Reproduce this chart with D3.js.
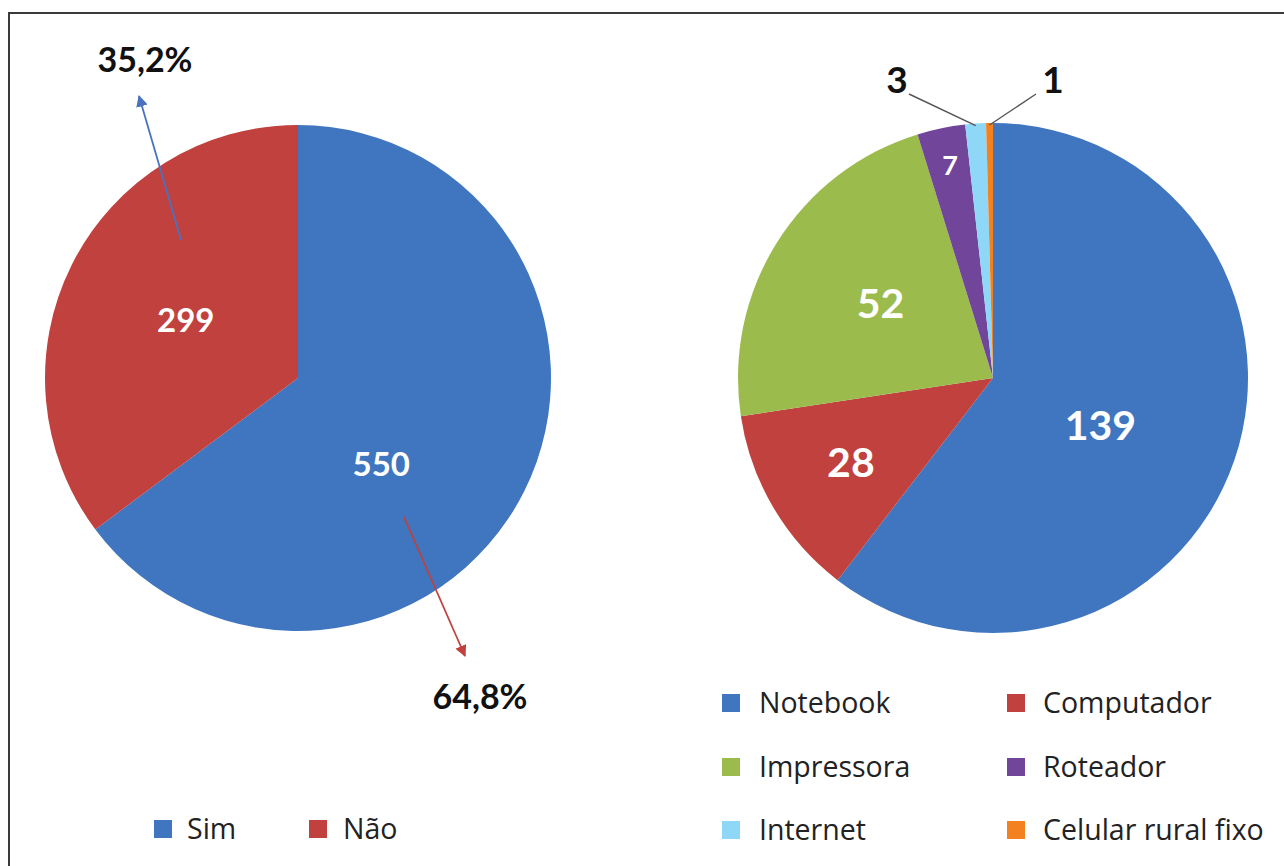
<!DOCTYPE html>
<html><head><meta charset="utf-8">
<script src="https://cdn.jsdelivr.net/npm/d3@7"></script>
<style>body{margin:0;background:#fff}svg{display:block}</style>
</head><body>
<script>
const leftCats = ["Sim", "Não"];
const leftValues = [550, 299];
const leftPercents = ["64,8%", "35,2%"];
const rightCats = ["Notebook", "Computador", "Impressora", "Roteador", "Internet", "Celular rural fixo"];
const rightValues = [139, 28, 52, 7, 3, 1];
const leftColors = ["#3f76bf", "#c0413e"];
const rightColors = ["#3f76bf", "#c0413e", "#9bbb4c", "#71459a", "#8fd7f7", "#f4811f"];

const W = 1284, H = 866;
const svg = d3.select("body").append("svg").attr("width", W).attr("height", H);
const font = "Lato, 'Open Sans', sans-serif";
const legFont = "'Open Sans', Lato, sans-serif";
const toRad = a => a * Math.PI / 180;

// frame
svg.append("rect").attr("x", 9).attr("y", 13).attr("width", W + 10).attr("height", H + 10)
  .attr("fill", "none").attr("stroke", "#3a3a3a").attr("stroke-width", 2);

const defs = svg.append("defs");
function marker(id, color) {
  defs.append("marker").attr("id", id).attr("viewBox", "0 0 10 10").attr("refX", 9).attr("refY", 5)
    .attr("markerWidth", 6.5).attr("markerHeight", 6.5).attr("orient", "auto")
    .append("path").attr("d", "M0,0L10,5L0,10Z").attr("fill", color);
}
marker("arrBlue", "#4a72c0");
marker("arrRed", "#c0413e");

const pie = d3.pie().sort(null).value(d => d);
function polar(angDeg, r) { return [Math.sin(toRad(angDeg)) * r, -Math.cos(toRad(angDeg)) * r]; }

// LEFT PIE
const lc = {x: 298, y: 378}, lr = 253;
const lg = svg.append("g").attr("transform", `translate(${lc.x},${lc.y})`);
const larc = d3.arc().innerRadius(0).outerRadius(lr);
const lArcs = pie(leftValues);
lg.selectAll("path").data(lArcs).join("path").attr("d", larc).attr("fill", (d, i) => leftColors[i]);
// label placement (angle offset from slice middle in degrees, radius fraction)
const lLabelPos = [[19.5, 0.475], [0.8, 0.5]];
lArcs.forEach((d, i) => {
  const mid = (d.startAngle + d.endAngle) / 2 * 180 / Math.PI;
  const p = polar(mid + lLabelPos[i][0], lr * lLabelPos[i][1]);
  lg.append("text").attr("x", p[0]).attr("y", p[1]).attr("text-anchor", "middle").attr("dy", "0.36em")
    .attr("fill", "#fff").attr("font-family", font).attr("font-weight", "bold").attr("font-size", 33)
    .text(d.data);
});

// arrows for percentages
const arrowDefs = [
  {from: [404, 517], to: [465, 656], col: "#c0413e", m: "arrRed", txt: leftPercents[0], tp: [480, 697]},
  {from: [181, 240], to: [139, 96], col: "#4a72c0", m: "arrBlue", txt: leftPercents[1], tp: [145, 60]}
];
arrowDefs.forEach(a => {
  svg.append("line").attr("x1", a.from[0]).attr("y1", a.from[1]).attr("x2", a.to[0]).attr("y2", a.to[1])
    .attr("stroke", a.col).attr("stroke-width", 1.8).attr("marker-end", `url(#${a.m})`);
  svg.append("text").attr("x", a.tp[0]).attr("y", a.tp[1]).attr("text-anchor", "middle").attr("dy", "0.36em")
    .attr("font-family", font).attr("font-weight", "bold").attr("font-size", 34).attr("fill", "#111").text(a.txt);
});

// RIGHT PIE
const rc = {x: 993, y: 378}, rr = 255;
const rg = svg.append("g").attr("transform", `translate(${rc.x},${rc.y})`);
const rarc = d3.arc().innerRadius(0).outerRadius(rr);
const rArcs = pie(rightValues);
rg.selectAll("path").data(rArcs).join("path").attr("d", rarc).attr("fill", (d, i) => rightColors[i]);
const rLabelPos = [[5, 0.46], [0, 0.647], [1.5, 0.53], [0.3, 0.85]];
const rSizes = [41, 41, 41, 27];
rArcs.slice(0, 4).forEach((d, i) => {
  const mid = (d.startAngle + d.endAngle) / 2 * 180 / Math.PI;
  const p = polar(mid + rLabelPos[i][0], rr * rLabelPos[i][1]);
  rg.append("text").attr("x", p[0]).attr("y", p[1]).attr("text-anchor", "middle").attr("dy", "0.36em")
    .attr("fill", "#fff").attr("font-family", font).attr("font-weight", "bold").attr("font-size", rSizes[i])
    .text(d.data);
});
// outside labels with leader lines
const outLab = [
  {i: 4, lp: [897, 80], l1: [909, 94]},
  {i: 5, lp: [1053, 80], l1: [1036, 94]}
];
outLab.forEach(o => {
  const d = rArcs[o.i];
  const mid = (d.startAngle + d.endAngle) / 2 * 180 / Math.PI;
  const p = polar(mid, rr - 2);
  svg.append("line").attr("x1", o.l1[0]).attr("y1", o.l1[1]).attr("x2", rc.x + p[0]).attr("y2", rc.y + p[1])
    .attr("stroke", "#555").attr("stroke-width", 1.4);
  svg.append("text").attr("x", o.lp[0]).attr("y", o.lp[1]).attr("text-anchor", "middle").attr("dy", "0.36em")
    .attr("fill", "#111").attr("font-family", font).attr("font-weight", "bold").attr("font-size", 37)
    .text(d.data);
});

// LEGENDS
function legendItem(x, y, color, label, tx) {
  svg.append("rect").attr("x", x).attr("y", y - 9).attr("width", 18).attr("height", 18).attr("fill", color);
  svg.append("text").attr("x", tx).attr("y", y).attr("dy", "0.36em")
    .attr("font-family", legFont).attr("font-size", 28.5).attr("fill", "#222").text(label);
}
const leftLegX = [[154, 187], [309, 343]];
leftCats.forEach((c, i) => legendItem(leftLegX[i][0], 829, leftColors[i], c, leftLegX[i][1]));
const rLegX = [[722, 759], [1007, 1043]], rLegY = [703, 767, 830];
rightCats.forEach((c, i) => {
  const col = rLegX[i % 2];
  legendItem(col[0], rLegY[Math.floor(i / 2)], rightColors[i], c, col[1]);
});
</script>
</body></html>
